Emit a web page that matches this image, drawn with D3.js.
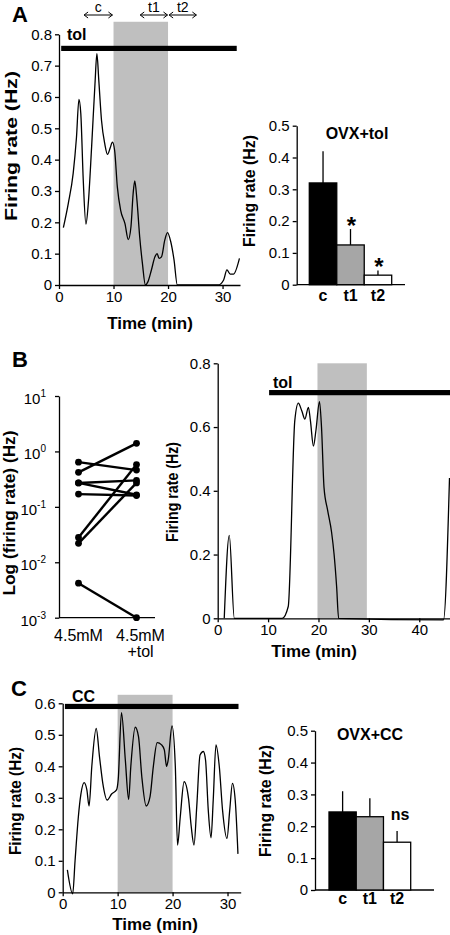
<!DOCTYPE html>
<html><head><meta charset="utf-8">
<script src="https://cdn.jsdelivr.net/npm/d3@7"></script>
<style>
html,body{margin:0;padding:0;background:#fff;}
svg{display:block;font-family:"Liberation Sans",Arial,sans-serif;}
.axis path,.axis line{stroke:#000;stroke-width:1.3;}
.axis text{font-size:15px;fill:#000;font-family:"Liberation Sans",Arial,sans-serif;}
.lbl{font-weight:bold;fill:#000;}
</style></head>
<body>
<svg id="chart" width="450" height="935"></svg>
<script>
// ---------------- DATA ----------------
// Panel A trace (tolbutamide)
const aTime = [0.8,1.7,2.6,3.2,3.66,4.0,4.45,4.94,5.37,5.98,6.6,6.95,7.3,7.8,8.4,8.9,9.4,9.8,10.2,10.7,11.3,12.1,12.7,13.2,13.6,13.9,14.3,14.8,15.3,15.85,16.3,16.95,17.6,18.0,18.35,18.8,19.4,19.9,20.5,21.1,21.7,25,29.2,30.2,30.8,31.4,32.0,33.1];
const aRate = [0.183,0.26,0.356,0.47,0.592,0.547,0.334,0.194,0.26,0.44,0.642,0.738,0.653,0.525,0.45,0.417,0.438,0.456,0.43,0.313,0.239,0.196,0.145,0.186,0.292,0.332,0.27,0.154,0.069,0,0.01,0.048,0.09,0.10,0.085,0.09,0.143,0.167,0.138,0.08,0,0,0,0.016,0.048,0.035,0.035,0.085];
// Panel A summary bars
const barCats = ["c","t1","t2"];
const aBar = [0.32,0.125,0.03];
const aErr = [0.10,0.05,0.015];
const aSig = ["","*","*"];
// Panel B paired log plot
const bGroups = ["4.5mM","4.5mM\n+tol"];
const bLeft  = [0.64,0.42,0.27,0.27,0.17,0.028,0.022,0.0042];
const bRight = [0.46,1.4,0.30,0.165,0.16,0.58,0.27,0.001];
const bLogTicks = [1e-3,1e-2,1e-1,1e0,1e1];
// Panel B trace
const bTime = [1.3,2.3,3.3,12.8,14.0,15.3,16.0,16.7,17.3,18.0,18.4,19.0,19.5,20.2,20.6,21.1,21.8,22.6,23.1,23.6,24.0,44.8,46.0];
const bRate = [0,0.26,0,0,0.037,0.62,0.675,0.65,0.625,0.662,0.62,0.54,0.59,0.68,0.60,0.41,0.34,0.27,0.2,0.1,0,-0.005,0.44];
// Panel C trace (CC)
const cTime = [0.85,1.82,2.25,2.85,3.3,3.9,4.4,4.8,5.3,6.1,6.7,7.3,8.1,8.9,9.8,10.1,10.7,11.4,12.0,12.4,13.2,13.8,14.4,15.2,15.9,16.5,17.2,18.0,18.5,18.9,19.2,19.9,20.5,20.9,21.4,22.1,22.9,23.4,23.9,24.4,25.0,25.6,26.0,26.5,27.0,27.4,27.9,28.5,29.1,29.9,30.4,30.9,31.4,31.9];
const cRate = [0.071,-0.005,0.10,0.24,0.31,0.348,0.325,0.274,0.40,0.52,0.43,0.346,0.293,0.312,0.325,0.357,0.57,0.42,0.295,0.40,0.524,0.494,0.367,0.274,0.304,0.40,0.475,0.468,0.452,0.40,0.42,0.528,0.40,0.15,0.24,0.351,0.298,0.208,0.15,0.272,0.436,0.447,0.42,0.26,0.173,0.293,0.468,0.40,0.26,0.171,0.26,0.346,0.293,0.122];
// Panel C summary bars
const cBar = [0.245,0.23,0.15];
const cErr = [0.065,0.058,0.035];
const cSig = ["","","ns"];
const barFill = ["#000","#a6a6a6","#fff"];

// ---------------- DRAW ----------------
const svg = d3.select("#chart");
const BAND = "#bfbfbf";
const fmt1 = d => d===0 ? "0" : d3.format(".1f")(d);

function styleAxis(g){
  g.attr("class","axis");
  g.select(".domain").attr("stroke","#000").attr("stroke-width",1.3);
  g.selectAll(".tick line").attr("stroke","#000").attr("stroke-width",1.3);
  return g;
}
function ylabel(text,x,cy,len){
  svg.append("text").attr("class","lbl")
    .attr("transform",`translate(${x},${cy}) rotate(-90)`)
    .attr("text-anchor","middle").attr("font-size",16)
    .attr("textLength",len).attr("lengthAdjust","spacingAndGlyphs")
    .text(text);
}
function xlabel(text,cx,y){
  svg.append("text").attr("class","lbl").attr("x",cx).attr("y",y)
    .attr("text-anchor","middle").attr("font-size",17).text(text);
}
function panelLetter(t,x,y){
  svg.append("text").attr("class","lbl").attr("x",x).attr("y",y)
    .attr("font-size",22).text(t);
}

function trace(opts){
  const {x,y,time,rate,band,bar,barLabel,labelPos} = opts;
  svg.append("rect").attr("x",x(band[0])).attr("width",x(band[1])-x(band[0]))
     .attr("y",y(band[2])).attr("height",y(0)-y(band[2])).attr("fill",BAND);
  const gy = svg.append("g").attr("transform",`translate(${x.range()[0]},0)`)
     .call(d3.axisLeft(y).tickValues(opts.yTicks).tickFormat(opts.yFmt).tickSize(4).tickSizeOuter(0).tickPadding(3));
  styleAxis(gy);
  const gx = svg.append("g").attr("transform",`translate(0,${y(0)})`)
     .call(d3.axisBottom(x).tickValues(opts.xTicks).tickFormat(d3.format("d")).tickSize(4).tickSizeOuter(0).tickPadding(2));
  styleAxis(gx);
  svg.append("rect").attr("x",x(bar[0])).attr("width",(bar[1]===null?450:x(bar[1]))-x(bar[0]))
     .attr("y",y(bar[2])-2.6).attr("height",5.2).attr("fill","#000");
  svg.append("text").attr("class","lbl").attr("x",labelPos[0]).attr("y",labelPos[1])
     .attr("font-size",16).text(barLabel);
  const data = time.map((t,i)=>({t,v:rate[i]}));
  svg.append("path").datum(data).attr("fill","none").attr("stroke","#000").attr("stroke-width",1.3)
     .attr("d",d3.line().x(d=>x(d.t)).y(d=>y(d.v)).curve(d3.curveMonotoneX));
}

function bars(opts){
  const {xr,y,vals,errs,sig,title,axisEnd} = opts;
  const x = d3.scaleBand().domain(barCats).range(xr).padding(0);
  const gy = svg.append("g").attr("transform",`translate(${opts.yAxisX},0)`)
     .call(d3.axisLeft(y).tickValues(d3.range(0,0.51,0.1)).tickFormat(fmt1).tickSize(4).tickSizeOuter(0).tickPadding(3));
  styleAxis(gy);
  svg.append("line").attr("x1",opts.yAxisX).attr("x2",axisEnd).attr("y1",y(0)).attr("y2",y(0))
     .attr("stroke","#000").attr("stroke-width",1.3);
  barCats.forEach((c,i)=>{
    const cx = x(c)+x.bandwidth()/2;
    svg.append("line").attr("x1",cx).attr("x2",cx).attr("y1",y(vals[i])).attr("y2",y(vals[i]+errs[i]))
       .attr("stroke","#000").attr("stroke-width",1.3);
    svg.append("rect").attr("x",x(c)).attr("width",x.bandwidth()).attr("y",y(vals[i])).attr("height",y(0)-y(vals[i]))
       .attr("fill",barFill[i]).attr("stroke","#000").attr("stroke-width",1.3);
    svg.append("text").attr("class","lbl").attr("x",cx).attr("y",opts.catY).attr("text-anchor","middle")
       .attr("font-size",16).text(c);
    if(sig[i]==="*"){
      svg.append("text").attr("class","lbl").attr("x",cx+1).attr("y",y(vals[i]+errs[i])+5)
         .attr("text-anchor","middle").attr("font-size",24).text("*");
    } else if(sig[i]){
      svg.append("text").attr("class","lbl").attr("x",cx+3).attr("y",y(vals[i]+errs[i])-11)
         .attr("text-anchor","middle").attr("font-size",16).text(sig[i]);
    }
  });
  svg.append("text").attr("class","lbl").attr("x",opts.titlePos[0]).attr("y",opts.titlePos[1])
     .attr("text-anchor","middle").attr("font-size",16).text(title);
}

// ===== Panel A =====
panelLetter("A",12,22);
const xA = d3.scaleLinear().domain([0,33.2]).range([59,240]);
const yA = d3.scaleLinear().domain([0,0.8]).range([285,34.3]);
trace({x:xA,y:yA,time:aTime,rate:aRate,band:[10,20,0.84],bar:[0.4,32.6,0.755],
  barLabel:"tol",labelPos:[67,40],yTicks:d3.range(0,0.81,0.1),yFmt:fmt1,xTicks:[0,10,20,30]});
ylabel("Firing rate (Hz)",17,146,150);
xlabel("Time (min)",150,329);
function dblArrow(t0,t1,y,label){
  const x0=xA(t0), x1=xA(t1);
  svg.append("path").attr("fill","none").attr("stroke","#000").attr("stroke-width",1)
    .attr("d",`M${x0},${y}L${x1},${y}M${x0+4},${y-3}L${x0},${y}L${x0+4},${y+3}M${x1-4},${y-3}L${x1},${y}L${x1-4},${y+3}`);
  svg.append("text").attr("x",(x0+x1)/2).attr("y",y-3).attr("text-anchor","middle")
    .attr("font-size",14).text(label);
}
dblArrow(4.6,9.8,15,"c");
dblArrow(14.9,19.9,15,"t1");
dblArrow(20.2,25.2,15,"t2");

const yAb = d3.scaleLinear().domain([0,0.5]).range([284.7,125.7]);
bars({xr:[309.3,391.7],y:yAb,vals:aBar,errs:aErr,sig:aSig,title:"OVX+tol",titlePos:[357,139],
  yAxisX:296.7,axisEnd:405,catY:301});
ylabel("Firing rate (Hz)",255,191,112);

// ===== Panel B =====
panelLetter("B",12,367);
const yBl = d3.scaleLog().domain([1e-3,10]).range([617.7,396]);
const xBl = d3.scalePoint().domain(bGroups).range([78.5,136.5]);
const gyb = svg.append("g").attr("transform","translate(59,0)")
  .call(d3.axisLeft(yBl).tickValues(bLogTicks).tickFormat("").tickSize(4).tickSizeOuter(0));
styleAxis(gyb);
bLogTicks.forEach(v=>{
  const t = svg.append("text").attr("x",46).attr("y",yBl(v)+8).attr("text-anchor","end").attr("font-size",15);
  t.append("tspan").text("10");
  t.append("tspan").attr("dy",-7).attr("font-size",10).text(String(Math.round(Math.log10(v))));
});
svg.append("line").attr("x1",59).attr("x2",155).attr("y1",yBl(1e-3)).attr("y2",yBl(1e-3))
  .attr("stroke","#000").attr("stroke-width",1.3);
bLeft.forEach((v,i)=>{
  svg.append("line").attr("x1",xBl(bGroups[0])).attr("y1",yBl(v))
    .attr("x2",xBl(bGroups[1])).attr("y2",yBl(bRight[i]))
    .attr("stroke","#000").attr("stroke-width",2.4);
});
bLeft.forEach((v,i)=>{
  svg.append("circle").attr("cx",xBl(bGroups[0])).attr("cy",yBl(v)).attr("r",3.4).attr("fill","#000");
  svg.append("circle").attr("cx",xBl(bGroups[1])).attr("cy",yBl(bRight[i])).attr("r",3.4).attr("fill","#000");
});
bGroups.forEach((g,k)=>{
  g.split("\n").forEach((s,j)=>{
    svg.append("text").attr("x",xBl(g)+(k===1?4:0)).attr("y",641+j*15.5).attr("text-anchor","middle")
      .attr("font-size",16).text(s);
  });
});
ylabel("Log (firing rate) (Hz)",15,513,165);

const xB = d3.scaleLinear().domain([0,46.1]).range([217.7,450]);
const yB = d3.scaleLinear().domain([0,0.8]).range([618.3,363.3]);
trace({x:xB,y:yB,time:bTime,rate:bRate,band:[19.8,29.6,0.8],bar:[10.2,null,0.708],
  barLabel:"tol",labelPos:[273,388],yTicks:[0,0.2,0.4,0.6,0.8],yFmt:fmt1,xTicks:[0,10,20,30,40]});
ylabel("Firing rate (Hz)",178,492,100);
xlabel("Time (min)",314,657);

// ===== Panel C =====
panelLetter("C",11,696);
const xC = d3.scaleLinear().domain([0,32.4]).range([62.7,240.7]);
const yC = d3.scaleLinear().domain([0,0.6]).range([892.3,703.3]);
trace({x:xC,y:yC,time:cTime,rate:cRate,band:[10,20,0.627],bar:[0.4,32,0.59],
  barLabel:"CC",labelPos:[72,702],yTicks:d3.range(0,0.61,0.1),yFmt:fmt1,xTicks:[0,10,20,30]});
ylabel("Firing rate (Hz)",21,801,108);
xlabel("Time (min)",155,930);

const yCb = d3.scaleLinear().domain([0,0.5]).range([890,730.7]);
bars({xr:[329,410.7],y:yCb,vals:cBar,errs:cErr,sig:cSig,title:"OVX+CC",titlePos:[370,740],
  yAxisX:315,axisEnd:434,catY:904});
ylabel("Firing rate (Hz)",271,801,112);
</script>
</body></html>
